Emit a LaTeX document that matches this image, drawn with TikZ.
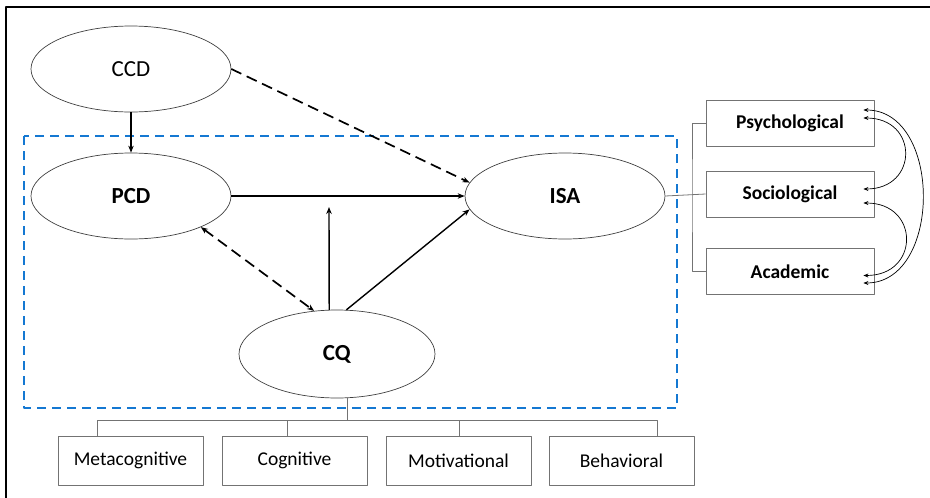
\documentclass[tikz,border=0pt]{standalone}
\usepackage{fontspec}
\setmainfont{Carlito}
\usetikzlibrary{shapes.geometric, arrows.meta}
\definecolor{frameblue}{RGB}{20,120,210}
\begin{document}
\begin{tikzpicture}[x=1pt, y=-1pt, line join=round, >={Stealth[length=7pt, width=5.5pt]}]
 \tikzset{construct/.style={ellipse, draw=black!75, line width=0.7pt, minimum width=200pt, minimum height=86pt, inner sep=0pt, font=\fontsize{23}{25}\selectfont},
   dimbox/.style={rectangle, draw=black!55, line width=0.8pt, inner sep=0pt, font=\fontsize{19.5}{22}\selectfont},
   boxline/.style={draw=black!55, line width=0.8pt},
   path/.style={->, line width=1.4pt},
   dashpath/.style={path, line width=1.7pt, dash pattern=on 11pt off 6pt},
   corr/.style={<->, line width=0.7pt, >={Stealth[length=5pt, width=4pt]}}}
 \useasboundingbox (0,0) rectangle (930,498);
 \draw[line width=1.3pt] (6,498)--(6,7)--(930,7);
 % moderating frame
 \draw[frameblue, line width=1.8pt, dash pattern=on 9pt off 6pt] (24,136) rectangle (677,408);
 % constructs
 \node[construct] (ccd) at (131,69) {CCD};
 \node[construct] (pcd) at (131,196) {\textbf{PCD}};
 \node[construct] (isa) at (565,196) {\textbf{ISA}};
 \node[construct, minimum width=196pt, minimum height=88pt] (cq) at (337,354) {\textbf{CQ}};
 % dimensions of ISA
 \node[dimbox, minimum width=168pt, minimum height=46pt] (psych) at (790,123) {\textbf{Psychological}};
 \node[dimbox, minimum width=168pt, minimum height=46pt] (socio) at (790,194) {\textbf{Sociological}};
 \node[dimbox, minimum width=168pt, minimum height=46pt] (acad) at (790,271.5) {\textbf{Academic}};
 % dimensions of CQ
 \node[dimbox, minimum width=145pt, minimum height=49pt] (meta) at (130.5,460.5) {Metacognitive};
 \node[dimbox, minimum width=145pt, minimum height=49pt] (cogn) at (294.5,460.5) {Cognitive};
 \node[dimbox, minimum width=145pt, minimum height=49pt] (motiv) at (458.5,460.5) {Motivational};
 \node[dimbox, minimum width=145pt, minimum height=49pt] (behav) at (621.5,460.5) {Behavioral};
 % paths
 \draw[path] (ccd) -- (pcd);
 \draw[dashpath] (ccd.east) -- (isa.172);
 \draw[path] (pcd.east) -- (isa.west);
 \draw[dashpath, <->] (pcd.-24) -- (cq.118);
 \coordinate (mod) at (329,207);
 \draw[path] (cq.100) -- (mod);
 \draw[path] (cq.78) -- (isa.188);
 % ISA bracket
 \coordinate (rbus) at (692,194);
 \draw[boxline] (isa.east) -- (socio.west);
 \draw[boxline] (psych.west) -| (rbus) |- (acad.west);
 % CQ bracket
 \coordinate (b0) at (347,420);
 \coordinate (b1) at (97,420);
 \coordinate (b2) at (287,420);
 \coordinate (b3) at (459,420);
 \coordinate (b4) at (657,420);
 \draw[boxline] (cq.south -| b0) -- (b0);
 \draw[boxline] (meta.north -| b1) -- (b1) -- (b4) -- (behav.north -| b4);
 \draw[boxline] (cogn.north -| b2) -- (b2);
 \draw[boxline] (motiv.north -| b3) -- (b3);
 % correlations
 \coordinate (ps1) at ([shift={(-11,-13)}]psych.east);
 \coordinate (ps2) at ([shift={(-11,-5)}]psych.east);
 \coordinate (so1) at ([shift={(-11,-5)}]socio.east);
 \coordinate (so2) at ([shift={(-11,9)}]socio.east);
 \coordinate (ac1) at ([shift={(-11,4)}]acad.east);
 \coordinate (ac2) at ([shift={(-11,11.5)}]acad.east);
 \draw[corr] (ps2) to[out=0, in=0, looseness=2] (so1);
 \draw[corr] (ps1) to[out=0, in=0, looseness=1.17] (ac2);
 \draw[corr] (so2) to[out=0, in=0, looseness=2] (ac1);
\end{tikzpicture}
\end{document}
